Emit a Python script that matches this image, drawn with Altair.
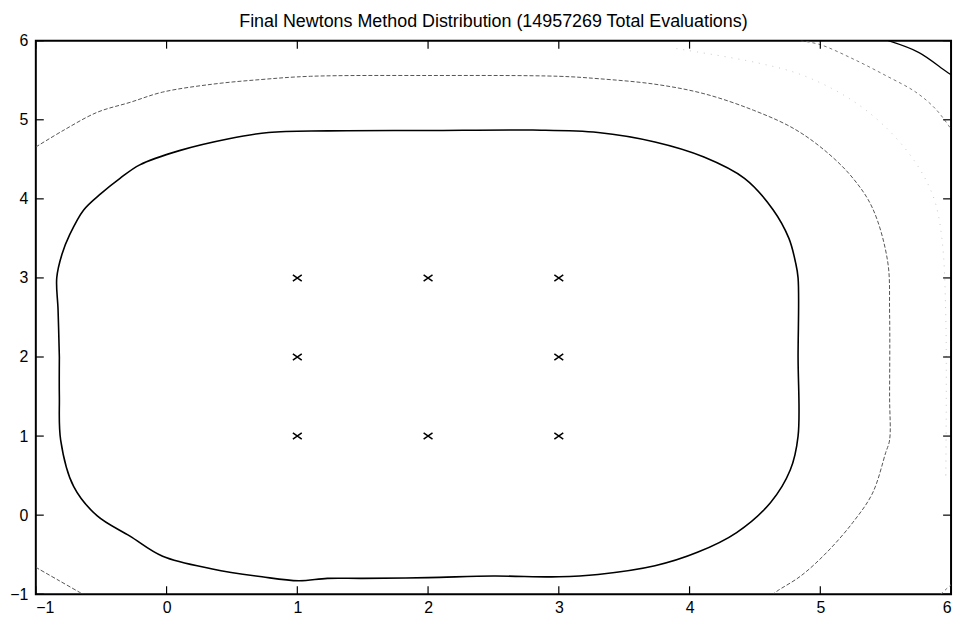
import altair as alt
import pandas as pd

# ---------------- data ----------------
tick_values = [-1, 0, 1, 2, 3, 4, 5, 6]

# sample points (marked with x)
pts_x = [1, 2, 3, 1, 3, 1, 2, 3]
pts_y = [1, 1, 1, 2, 2, 3, 3, 3]

# inner (black, solid) closed contour
inner_x = [-0.82, -0.83, -0.84, -0.80, -0.74, -0.634, -0.50, -0.356, -0.205, 0.098, 0.477, 0.78,
           1.235, 2.0, 2.8, 3.3, 3.735, 4.11, 4.42, 4.64, 4.76, 4.81, 4.83, 4.83, 4.83, 4.77,
           4.62, 4.36, 4.06, 3.735, 3.3, 3.0, 2.5, 2.0, 1.5, 1.23, 1.01, 0.73, 0.35, -0.03,
           -0.28, -0.53, -0.71, -0.81, -0.82, -0.82]
inner_y = [2.0, 2.6, 3.0, 3.3, 3.55, 3.86, 4.07, 4.26, 4.43, 4.61, 4.76, 4.84,
           4.86, 4.865, 4.87, 4.84, 4.72, 4.53, 4.26, 3.86, 3.5, 3.2, 3.0, 2.0, 1.0, 0.57,
           0.16, -0.22, -0.47, -0.64, -0.75, -0.78, -0.77, -0.79, -0.80, -0.80, -0.83, -0.78, -0.68, -0.52,
           -0.265, -0.01, 0.36, 0.95, 1.5, 2.0]

# second contour (grey), main arc and bottom-left corner piece
c2a_x = [-1.0, -0.785, -0.53, -0.28, -0.03, 0.35, 0.73, 1.1, 2.0, 3.0, 3.3, 3.735, 4.11, 4.49,
         4.80, 5.05, 5.25, 5.40, 5.515, 5.53, 5.53, 5.53, 5.50, 5.40, 5.25, 5.05, 4.85, 4.67, 4.64]
c2a_y = [4.656, 4.87, 5.095, 5.22, 5.35, 5.45, 5.51, 5.55, 5.56, 5.55, 5.52, 5.45, 5.33, 5.12,
         4.886, 4.59, 4.26, 3.88, 3.21, 2.545, 1.5, 0.95, 0.79, 0.28, -0.09, -0.47, -0.77, -0.96, -1.0]
c2b_x = [-1.0, -0.82, -0.64]
c2b_y = [-0.66, -0.83, -1.0]

# third contour (light grey): top-right arc and bottom-right corner piece
c3a_x = [4.85, 5.0, 5.25, 5.50, 5.73, 5.88, 5.98, 6.0]
c3a_y = [6.0, 5.95, 5.77, 5.56, 5.35, 5.14, 4.93, 4.88]
c3b_x = [5.92, 6.0]
c3b_y = [-1.0, -0.88]

# very faint contour near the top-right edges
c4_x = [3.9, 4.52, 4.87, 5.23, 5.51, 5.74, 5.87, 5.93, 5.96, 5.96]
c4_y = [5.9, 5.72, 5.56, 5.26, 4.89, 4.43, 4.0, 3.5, 2.5, 0.5]

# outermost (dark) contour in the top-right corner
c5_x = [5.52, 5.755, 5.955, 6.0]
c5_y = [6.0, 5.85, 5.62, 5.57]


def seg_df(xs, ys, seg):
    return pd.DataFrame({"x": xs, "y": ys, "i": list(range(len(xs))), "seg": seg})


inner_df = seg_df(inner_x, inner_y, "inner")
c2_df = pd.concat([seg_df(c2a_x, c2a_y, "a"), seg_df(c2b_x, c2b_y, "b")])
c3_df = pd.concat([seg_df(c3a_x, c3a_y, "a"), seg_df(c3b_x, c3b_y, "b")])
c4_df = seg_df(c4_x, c4_y, "a")
c5_df = seg_df(c5_x, c5_y, "a")
pts_df = pd.DataFrame({"x": pts_x, "y": pts_y})
ticks_df = pd.DataFrame({"x": tick_values, "y": tick_values})

W, H, TL = 921, 557, 8
FONT = "Liberation Sans"
xs = alt.Scale(domain=[-1, 6], nice=False, zero=False)
ys = alt.Scale(domain=[-1, 6], nice=False, zero=False)

x_bottom = alt.Axis(orient="bottom", values=tick_values, ticks=False, domain=False, grid=False,
                    title=None, labelColor="black", labelFont=FONT, labelFontSize=16,
                    labelPadding=5)
y_left = alt.Axis(orient="left", values=tick_values, ticks=False, domain=False, grid=False,
                  title=None, labelColor="black", labelFont=FONT, labelFontSize=16,
                  labelPadding=8)

X = alt.X("x:Q", scale=xs, axis=x_bottom)
Y = alt.Y("y:Q", scale=ys, axis=y_left)


def line_layer(df, color, width, dash=None):
    kw = dict(color=color, strokeWidth=width, clip=True, interpolate="catmull-rom")
    if dash is not None:
        kw["strokeDash"] = dash
    return alt.Chart(df).mark_line(**kw).encode(x=X, y=Y, detail="seg:N", order="i:Q")


inner = line_layer(inner_df, "black", 1.6)
c2 = line_layer(c2_df, "#555555", 1.0, dash=[4, 2])
c3 = line_layer(c3_df, "#777777", 1.0, dash=[3, 3])
c4 = line_layer(c4_df, "#c8c8c8", 1.0, dash=[1, 6])
c5 = line_layer(c5_df, "black", 1.3)

x_shape = "M -1 -0.7 L 1 0.7 M -1 0.7 L 1 -0.7"
pts = alt.Chart(pts_df).mark_point(shape=x_shape, filled=False, color="black",
                                   size=80, strokeWidth=1.5, opacity=1).encode(x=X, y=Y)

# inward tick marks on all four sides (MATLAB style)
tick_base = alt.Chart(ticks_df).mark_rule(color="black", strokeWidth=1.2)
t_bottom = tick_base.encode(x=X, y=alt.value(H - TL), y2=alt.value(H))
t_top = tick_base.encode(x=X, y=alt.value(0), y2=alt.value(TL))
t_left = tick_base.encode(y=Y, x=alt.value(0), x2=alt.value(TL))
t_right = tick_base.encode(y=Y, x=alt.value(W - TL), x2=alt.value(W))

chart = alt.layer(inner, c2, c3, c4, c5, pts, t_bottom, t_top, t_left, t_right).properties(
    width=W,
    height=H,
    title=alt.TitleParams("Final Newtons Method Distribution (14957269 Total Evaluations)",
                          font=FONT, fontSize=18, fontWeight="normal", color="black",
                          anchor="middle", offset=2),
    autosize=alt.AutoSizeParams(type="none"),
    padding={"left": 28, "top": 31, "right": 8, "bottom": 20},
    background="white",
).configure_view(stroke="black", strokeWidth=2)

chart.save("out.html", embed_options={"renderer": "svg", "actions": False})
